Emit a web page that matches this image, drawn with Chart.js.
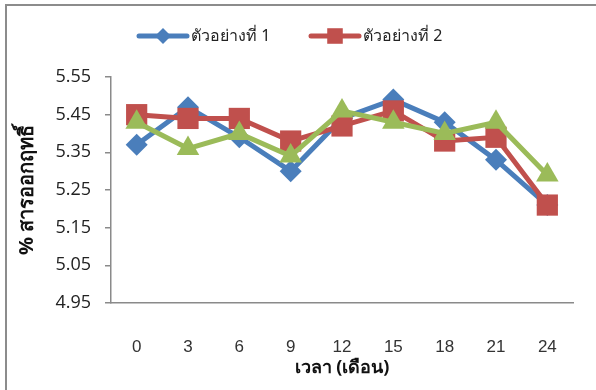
<!DOCTYPE html>
<html>
<head>
<meta charset="utf-8">
<script src="https://cdn.jsdelivr.net/npm/chart.js@4/dist/chart.umd.min.js"></script>
<style>
  html, body { margin: 0; padding: 0; background: #fff; overflow: hidden; }
  #wrap { position: relative; width: 596px; height: 390px; }
  #frame { position: absolute; left: 5px; top: 4px; width: 640px; height: 440px;
           border: 2px solid #8c8c8c; box-sizing: border-box; pointer-events: none; }
  canvas { position: absolute; left: 0; top: 0; }
</style>
</head>
<body>
<div id="wrap">
  <canvas id="chart" width="596" height="390"></canvas>
  <div id="frame"></div>
</div>
<script>
// Storage time in months
const months = ['0', '3', '6', '9', '12', '15', '18', '21', '24'];

// Active-ingredient content (%) for each sample
const sample1 = [5.37, 5.47, 5.39, 5.30, 5.44, 5.49, 5.43, 5.33, 5.21];
const sample2 = [5.45, 5.44, 5.44, 5.38, 5.42, 5.46, 5.38, 5.39, 5.21];
const sample3 = [5.43, 5.36, 5.40, 5.34, 5.46, 5.43, 5.40, 5.43, 5.29];

const seriesNames = ['ตัวอย่างที่ 1', 'ตัวอย่างที่ 2', 'ตัวอย่างที่ 3'];
const yTicks = [4.95, 5.05, 5.15, 5.25, 5.35, 5.45, 5.55];

const xTitle = 'เวลา (เดือน)';
const yTitle = '% สารออกฤทธิ์';

const BLUE = '#4a7ebb', RED = '#c0504d', GREEN = '#9bbb59';
const AXIS = '#8a8a8a';
const THAI_FONT = '"Noto Sans", "DejaVu Sans", sans-serif';

// later samples are painted over earlier ones (lower order = on top)
function series(label, data, color, style, radius, order) {
  return {
    label, data, order,
    borderColor: color, backgroundColor: color,
    borderWidth: 5,
    pointStyle: style, pointRadius: radius, pointHoverRadius: radius,
    pointBorderWidth: 0,
    pointBackgroundColor: color,
    tension: 0, fill: false
  };
}

// Legend with a short line and a marker, showing the first two samples
const lineLegend = {
  id: 'lineLegend',
  afterDraw(chart, args, opts) {
    const ctx = chart.ctx;
    ctx.save();
    opts.items.forEach(item => {
      const ds = chart.data.datasets[item.index];
      ctx.strokeStyle = ds.borderColor;
      ctx.lineWidth = 5;
      ctx.lineCap = 'round';
      ctx.beginPath();
      ctx.moveTo(item.x, opts.y);
      ctx.lineTo(item.x + opts.lineLength, opts.y);
      ctx.stroke();
      ctx.fillStyle = ds.backgroundColor;
      Chart.helpers.drawPoint(ctx, {
        pointStyle: ds.pointStyle, radius: item.radius, rotation: 0, borderWidth: 0
      }, item.x + opts.lineLength / 2, opts.y);
      ctx.fillStyle = '#222';
      ctx.font = opts.font;
      ctx.textBaseline = 'middle';
      ctx.textAlign = 'left';
      ctx.fillText(ds.label, item.x + opts.lineLength + 4, opts.y);
    });
    ctx.restore();
  }
};

new Chart(document.getElementById('chart'), {
  type: 'line',
  data: {
    labels: months,
    datasets: [
      series(seriesNames[0], sample1, BLUE, 'rectRot', 11, 2),
      series(seriesNames[1], sample2, RED, 'rect', 15, 1),
      series(seriesNames[2], sample3, GREEN, 'triangle', 13, 0)
    ]
  },
  plugins: [lineLegend],
  options: {
    responsive: false,
    animation: false,
    layout: { padding: { left: 0, right: 23, top: 77, bottom: 0 } },
    plugins: {
      legend: { display: false },
      tooltip: { enabled: false },
      lineLegend: {
        y: 36,
        lineLength: 48,
        font: '16px ' + THAI_FONT,
        items: [
          { index: 0, x: 139, radius: 8 },
          { index: 1, x: 311, radius: 11 }
        ]
      }
    },
    scales: {
      x: {
        offset: true,
        grid: { display: false },
        border: { display: true, color: AXIS, width: 1.5 },
        ticks: {
          color: '#333',
          padding: 26,
          font: { family: '"Liberation Sans", Arial, sans-serif', size: 17 }
        },
        title: {
          display: true, text: xTitle, color: '#111',
          font: { family: THAI_FONT, size: 18, weight: 'bold' },
          padding: { top: 0, bottom: 11 }
        },
        afterFit(scale) { scale.height = 87; }
      },
      y: {
        min: 4.95, max: 5.55,
        grid: { drawOnChartArea: false, drawTicks: true, tickLength: 6, color: AXIS, lineWidth: 1.5 },
        border: { display: true, color: AXIS, width: 1.5 },
        afterBuildTicks(scale) { scale.ticks = yTicks.map(v => ({ value: v })); },
        ticks: {
          color: '#222',
          padding: 14,
          font: { family: '"Open Sans", sans-serif', size: 18 },
          callback: v => Number(v).toFixed(2)
        },
        title: {
          display: true, text: yTitle, color: '#111',
          font: { family: THAI_FONT, size: 20, weight: 'bold' },
          padding: { top: 15, bottom: 0 }
        },
        afterFit(scale) { scale.width = 111; }
      }
    }
  }
});
</script>
</body>
</html>
